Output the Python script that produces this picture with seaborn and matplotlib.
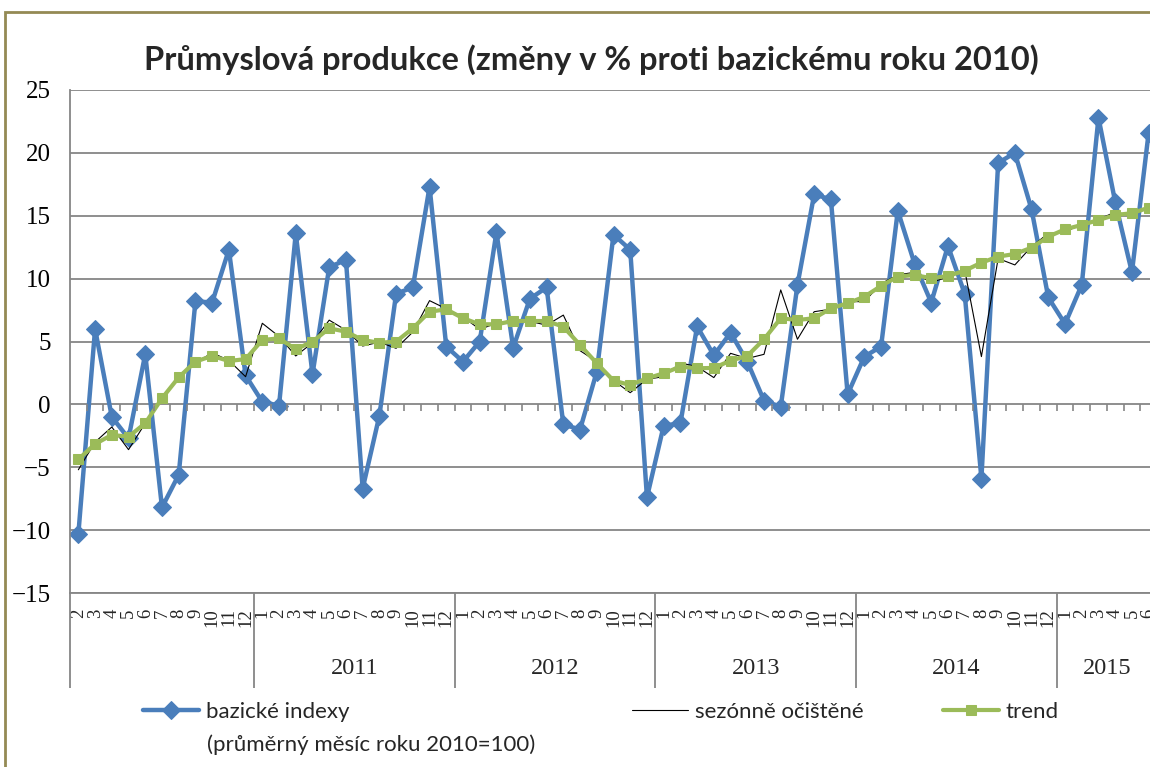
import numpy as np
import pandas as pd
import seaborn as sns
import matplotlib.pyplot as plt
from matplotlib.patches import Rectangle

# data (Feb 2010 .. Jun 2015)
month_labels = ['2', '3', '4', '5', '6', '7', '8', '9', '10', '11', '12',
                '1', '2', '3', '4', '5', '6', '7', '8', '9', '10', '11', '12',
                '1', '2', '3', '4', '5', '6', '7', '8', '9', '10', '11', '12',
                '1', '2', '3', '4', '5', '6', '7', '8', '9', '10', '11', '12',
                '1', '2', '3', '4', '5', '6', '7', '8', '9', '10', '11', '12',
                '1', '2', '3', '4', '5', '6']
year_labels = ['', '2011', '2012', '2013', '2014', '2015']

bazicke = [-10.3, 6.0, -1.0, -2.7, 4.0, -8.2, -5.6, 8.2, 8.1, 12.3, 2.3,
           0.2, -0.1, 13.6, 2.4, 10.9, 11.5, -6.7, -0.9, 8.8, 9.3, 17.3, 4.6,
           3.4, 5.0, 13.7, 4.5, 8.4, 9.3, -1.6, -2.0, 2.6, 13.5, 12.3, -7.4,
           -1.7, -1.5, 6.2, 3.9, 5.7, 3.4, 0.3, -0.2, 9.5, 16.7, 16.3, 0.8,
           3.8, 4.6, 15.4, 11.2, 8.1, 12.6, 8.8, -5.9, 19.2, 20.0, 15.5, 8.5,
           6.4, 9.5, 22.8, 16.1, 10.5, 21.6]
sezonne = [-5.2, -3.0, -1.8, -3.6, -1.5, 0.5, 2.2, 3.3, 4.1, 3.5, 2.2,
           6.45, 5.4, 3.85, 4.9, 6.7, 5.9, 4.64, 4.95, 4.46, 5.75, 8.25, 7.6,
           6.95, 5.97, 6.45, 6.7, 6.6, 6.3, 7.1, 4.27, 3.4, 1.9, 0.93, 2.0,
           2.2, 3.3, 3.0, 2.13, 4.06, 3.65, 3.98, 9.1, 5.18, 7.37, 7.57, 8.17,
           8.17, 9.6, 10.3, 10.5, 9.68, 10.16, 10.7, 3.8, 11.6, 11.09, 12.55, 13.6,
           13.7, 14.35, 14.7, 15.3, 15.0, 15.7]
trend = [-4.37, -3.15, -2.43, -2.57, -1.5, 0.48, 2.15, 3.4, 3.85, 3.45, 3.6,
         5.12, 5.25, 4.38, 4.99, 6.05, 5.78, 5.12, 4.9, 4.99, 6.05, 7.37, 7.56,
         6.85, 6.37, 6.37, 6.63, 6.63, 6.63, 6.18, 4.72, 3.27, 1.89, 1.54, 2.07,
         2.47, 3.0, 2.87, 2.9, 3.48, 3.85, 5.18, 6.85, 6.71, 6.85, 7.64, 8.04,
         8.56, 9.42, 10.16, 10.29, 10.03, 10.21, 10.63, 11.27, 11.75, 11.96, 12.46, 13.34,
         13.92, 14.27, 14.66, 15.06, 15.2, 15.64]

df = pd.DataFrame({'pos': np.arange(len(bazicke)), 'bazicke': bazicke,
                   'sezonne': sezonne, 'trend': trend})

sns.set_style('white')
plt.rcParams['font.family'] = ['Lato', 'DejaVu Sans']

grid_col = '#868686'
blue = '#4A7EBB'
green = '#9BBB59'
serif = ['Liberation Serif', 'DejaVu Serif']

fig = plt.figure(figsize=(11.5, 7.67), dpi=100)
ax = fig.add_axes([70 / 1150, 1 - 593 / 767, 1087 / 1150, 503 / 767])

sns.lineplot(data=df, x='pos', y='bazicke', ax=ax, color=blue, lw=3.2,
             marker='D', markersize=9, markeredgecolor=blue, legend=False)
sns.lineplot(data=df, x='pos', y='sezonne', ax=ax, color='black', lw=0.8,
             legend=False)
sns.lineplot(data=df, x='pos', y='trend', ax=ax, color=green, lw=3.0,
             marker='s', markersize=6.5, markeredgecolor=green, legend=False)

n = len(bazicke)
ax.set_xlim(-0.5, n - 0.5)
ax.set_ylim(-15, 25)
ax.set_yticks(range(-15, 26, 5))
ax.set_xlabel('')
ax.set_ylabel('')
ax.yaxis.grid(True, color=grid_col, lw=1.3)
ax.set_axisbelow(True)
for s in ['top', 'right']:
    ax.spines[s].set_visible(False)
for s in ['left', 'bottom']:
    ax.spines[s].set_color(grid_col)
    ax.spines[s].set_linewidth(1.3)

ax.tick_params(axis='y', direction='out', length=6, width=1.2, color=grid_col,
               pad=8, labelsize=18, labelcolor='black')
for t in ax.get_yticklabels():
    t.set_family(serif)

# category axis: tick marks on the zero line, labels in the low position
bounds = np.arange(n + 1) - 0.5
ax.vlines(bounds[1:-1], -0.55, 0, color=grid_col, lw=1.2)
ax.set_xticks(bounds[1:-1])
ax.set_xticklabels([])
ax.tick_params(axis='x', which='major', direction='out', length=34, width=1.2,
               color=grid_col)
ax.set_xticks(np.arange(n), labels=month_labels, minor=True)
ax.tick_params(axis='x', which='minor', length=0, pad=11, labelsize=13.5,
               labelrotation=90)
for t in ax.get_xticklabels(minor=True):
    t.set_family(serif)

year_starts = [-0.5] + [i - 0.5 for i, m in enumerate(month_labels) if m == '1']
year_ends = year_starts[1:] + [n - 0.5]
trans = ax.get_xaxis_transform()
ax.vlines(year_starts, -95 / 503, 0, transform=trans, color=grid_col, lw=1.3,
          clip_on=False)
for lab, a, b in zip(year_labels, year_starts, year_ends):
    ax.text((a + b) / 2, -75 / 503, lab, transform=trans, ha='center',
            va='center', fontsize=17.5, family=serif)

fig.text(591 / 1150, 1 - 60 / 767,
         'Průmyslová produkce (změny v % proti bazickému roku 2010)',
         ha='center', va='center', fontsize=23.5, fontweight='bold')

# legend, three entries spread along the bottom
lines = ax.get_lines()
entries = [(lines[0], 'bazické indexy', 143),
           (lines[1], 'sezónně očištěné', 632),
           (lines[2], 'trend', 943)]
for ln, lab, x in entries:
    fig.legend(handles=[ln], labels=[lab], loc='upper left',
               bbox_to_anchor=(x / 1150, 1 - 702 / 767), frameon=False,
               borderpad=0, borderaxespad=0, handlelength=2.5,
               handletextpad=0.33, fontsize=16)
fig.text(207 / 1150, 1 - 745 / 767, '(průměrný měsíc roku 2010=100)',
         ha='left', va='center', fontsize=16)

fig.add_artist(Rectangle((5 / 1150, -0.1), 1.2, 1.1 - 12 / 767,
                         transform=fig.transFigure, fill=False,
                         edgecolor='#948A54', lw=2))

fig.savefig('out.png', dpi=100)
